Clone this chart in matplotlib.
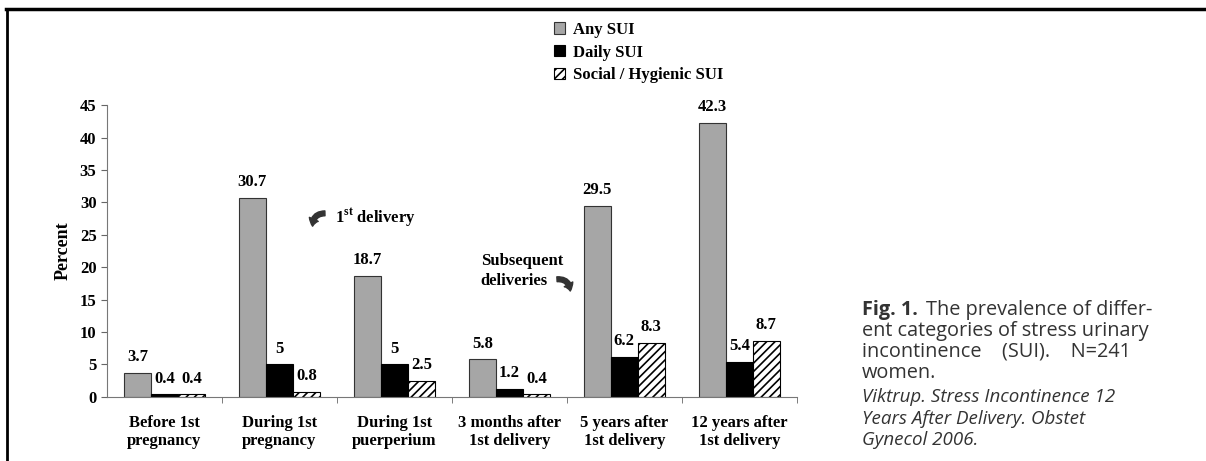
import matplotlib.pyplot as plt
import numpy as np
from matplotlib.lines import Line2D

plt.rcParams['font.family'] = ['Liberation Serif', 'DejaVu Serif']
plt.rcParams['mathtext.fontset'] = 'custom'
plt.rcParams['mathtext.bf'] = 'Liberation Serif:bold'
plt.rcParams['mathtext.rm'] = 'Liberation Serif'
plt.rcParams['hatch.linewidth'] = 1.2

# data
categories = ["Before 1st\npregnancy", "During 1st\npregnancy", "During 1st\npuerperium",
              "3 months after\n1st delivery", "5 years after\n1st delivery", "12 years after\n1st delivery"]
any_sui = [3.7, 30.7, 18.7, 5.8, 29.5, 42.3]
daily_sui = [0.4, 5, 5, 1.2, 6.2, 5.4]
social_sui = [0.4, 0.8, 2.5, 0.4, 8.3, 8.7]
value_labels = [
    ["3.7", "30.7", "18.7", "5.8", "29.5", "42.3"],
    ["0.4", "5", "5", "1.2", "6.2", "5.4"],
    ["0.4", "0.8", "2.5", "0.4", "8.3", "8.7"],
]

fig = plt.figure(figsize=(12.06, 4.61), dpi=100)
ax = fig.add_axes([0.0887, 0.139, 0.572, 0.633])

x = np.arange(len(categories))
w = 0.235
b1 = ax.bar(x - w, any_sui, w, color='#a6a6a6', edgecolor='#333333', linewidth=0.8, label='Any SUI')
b2 = ax.bar(x, daily_sui, w, color='black', edgecolor='black', linewidth=0.8, label='Daily SUI')
b3 = ax.bar(x + w, social_sui, w, color='white', edgecolor='black', hatch='////', linewidth=0.8,
            label='Social / Hygienic SUI')

for bars, labs in zip([b1, b2, b3], value_labels):
    for b, lab in zip(bars, labs):
        ax.text(b.get_x() + b.get_width() / 2, b.get_height() + 1.2, lab, ha='center', va='bottom',
                fontsize=12, fontweight='bold')

ax.set_xlim(-0.5, 5.5)
ax.set_ylim(0, 45)
ax.set_yticks(np.arange(0, 46, 5))
ax.set_xticks(x)
ax.set_xticklabels(categories, fontsize=12, fontweight='bold')
ax.tick_params(axis='x', which='major', length=0, pad=13)
ax.set_xticks(np.arange(0.5, 5.6, 1), minor=True)
ax.tick_params(axis='x', which='minor', length=4, color='#666666')
ax.tick_params(axis='y', labelsize=12, length=4, color='#666666')
for lab in ax.get_yticklabels():
    lab.set_fontweight('bold')
ax.set_ylabel('Percent', fontsize=13, fontweight='bold', labelpad=6)
ax.spines['top'].set_visible(False)
ax.spines['right'].set_visible(False)
ax.spines['left'].set_color('#777777')
ax.spines['bottom'].set_color('#777777')

# annotations with curved arrows
arrow = 'simple,head_width=0.7,head_length=0.5,tail_width=0.35'
ax.text(1.48, 27.6, r"1$^{\mathbf{st}}$ delivery", fontsize=12, fontweight='bold', va='center')
ax.annotate('', xy=(1.29, 25.9), xytext=(1.42, 28.3),
            arrowprops=dict(arrowstyle=arrow, connectionstyle='arc3,rad=0.6', color='#333333'))
ax.text(2.75, 19.4, "Subsequent\ndeliveries", fontsize=12, fontweight='bold', ha='left', va='center',
        linespacing=1.3)
ax.annotate('', xy=(3.53, 15.9), xytext=(3.39, 18.1),
            arrowprops=dict(arrowstyle=arrow, connectionstyle='arc3,rad=-0.6', color='#333333'))

fig.legend(handles=[b1, b2, b3], loc='upper left', bbox_to_anchor=(0.447, 0.985), frameon=False,
           prop={'size': 12, 'weight': 'bold'}, handlelength=0.65, handleheight=0.65,
           handletextpad=0.5, labelspacing=0.4)

# frame lines
fig.add_artist(Line2D([0.005, 1.0], [0.981, 0.981], color='black', lw=2.5, transform=fig.transFigure))
fig.add_artist(Line2D([0.0058, 0.0058], [0.0, 0.981], color='black', lw=2.0, transform=fig.transFigure))

# caption
cap = ['Open Sans', 'DejaVu Sans']
cc = '#333333'
fs = 14.3
def px(xp, yp):
    return xp / 1206, 1 - yp / 461
t1 = fig.text(*px(862, 310), "Fig. 1.", family=cap, fontweight='bold', fontsize=fs, color=cc, va='center')
fig.text(*px(862, 310), "The prevalence of differ-", family=cap, fontsize=fs, color=cc, va='center',
         transform=t1.get_transform())
fig.texts[-1].set_position(px(862 + 64, 310))
fig.text(*px(862, 331), "ent categories of stress urinary", family=cap, fontsize=fs, color=cc, va='center')
fig.text(*px(862, 352), "incontinence    (SUI).    N=241", family=cap, fontsize=fs, color=cc, va='center')
fig.text(*px(862, 373), "women.", family=cap, fontsize=fs, color=cc, va='center')
fig.text(*px(862, 397), "Viktrup. Stress Incontinence 12", family=cap, style='italic', fontsize=fs - 0.8,
         color=cc, va='center')
fig.text(*px(862, 419), "Years After Delivery. Obstet", family=cap, style='italic', fontsize=fs - 0.8,
         color=cc, va='center')
fig.text(*px(862, 440), "Gynecol 2006.", family=cap, style='italic', fontsize=fs - 0.8,
         color=cc, va='center')

plt.savefig('out.png', dpi=100)
plt.close()
